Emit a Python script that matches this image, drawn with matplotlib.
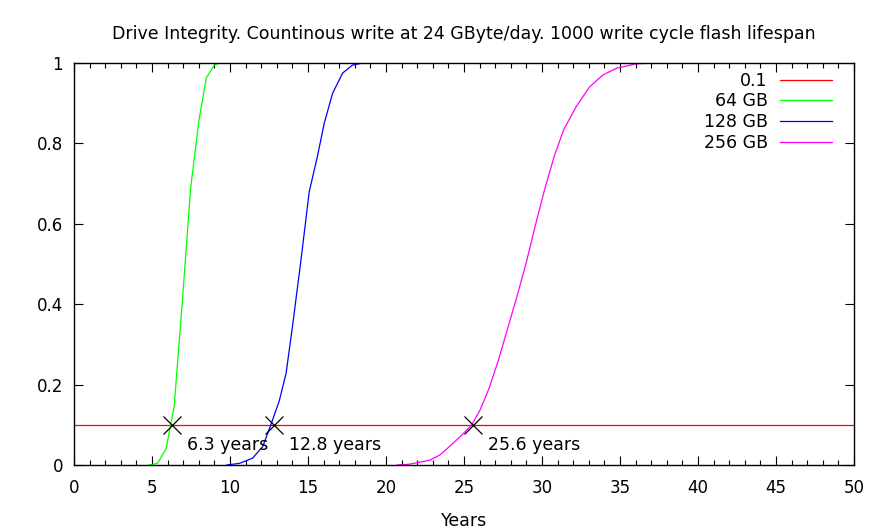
import matplotlib
matplotlib.use("Agg")
import matplotlib.pyplot as plt
from matplotlib.ticker import MultipleLocator

# curves (years, fraction of drive worn out)
years_64 = [4.8, 5.35, 5.9, 6.42, 6.95, 7.48, 8.0, 8.48, 9.0, 9.3]
frac_64 = [0.0, 0.004, 0.04, 0.145, 0.41, 0.69, 0.855, 0.963, 0.995, 1.0]

years_128 = [9.8, 10.6, 11.45, 12.1, 12.62, 13.16, 13.59, 14.0, 14.55, 15.08,
             15.6, 16.04, 16.58, 17.22, 17.86, 18.4, 18.9]
frac_128 = [0.0, 0.004, 0.017, 0.046, 0.1, 0.16, 0.227, 0.343, 0.51, 0.68,
            0.767, 0.85, 0.925, 0.975, 0.995, 0.999, 1.0]

years_256 = [20.7, 21.5, 22.8, 23.46, 24.07, 24.6, 25.0, 25.5, 26.03, 26.6,
             27.2, 27.8, 28.4, 29.0, 29.6, 30.2, 30.8, 31.4, 32.2, 33.06,
             33.9, 34.77, 36.05, 37.3, 37.9]
frac_256 = [0.0, 0.002, 0.012, 0.025, 0.046, 0.065, 0.08, 0.1, 0.137, 0.19,
            0.26, 0.34, 0.42, 0.505, 0.6, 0.69, 0.77, 0.835, 0.892, 0.941,
            0.97, 0.987, 0.998, 1.0, 1.0]

threshold = 0.1
cross_years = [6.3, 12.8, 25.6]
cross_labels = ["6.3 years", "12.8 years", "25.6 years"]

FS = 12.5

fig = plt.figure(figsize=(8.88, 5.32), dpi=100)
ax = fig.add_axes([74/888, 1 - 465/532, 780/888, 402/532])

ax.plot([0, 50], [threshold, threshold], color="#ff0000", lw=0.9, label="0.1")
ax.plot(years_64, frac_64, color="#00ff00", lw=0.9, label="64 GB")
ax.plot(years_128, frac_128, color="#0000ff", lw=0.9, label="128 GB")
ax.plot(years_256, frac_256, color="#ff00ff", lw=0.9, label="256 GB")

ax.plot(cross_years, [threshold]*3, ls="none", marker="x", color="black",
        markersize=13, markeredgewidth=0.9)
for xv, txt in zip(cross_years, cross_labels):
    ax.annotate(txt, (xv, threshold), xytext=(15, -20), textcoords="offset pixels",
                ha="left", va="center", fontsize=FS)

ax.set_xlim(0, 50)
ax.set_ylim(0, 1)
ax.xaxis.set_major_locator(MultipleLocator(5))
ax.xaxis.set_minor_locator(MultipleLocator(1))
ax.set_yticks([0, 0.2, 0.4, 0.6, 0.8, 1])
ax.set_yticklabels(["0", "0.2", "0.4", "0.6", "0.8", "1"])
ax.tick_params(which="both", direction="in", top=True, right=True, labelsize=12)
ax.tick_params(which="major", length=6.5, width=0.8)
ax.tick_params(which="minor", length=3.5, width=0.8)
ax.tick_params(axis="x", pad=10)
ax.tick_params(axis="y", pad=8)
for s in ax.spines.values():
    s.set_linewidth(1.0)

ax.set_xlabel("Years", fontsize=FS, labelpad=11)
ax.set_title("Drive Integrity. Countinous write at 24 GByte/day. 1000 write cycle flash lifespan",
             fontsize=FS, pad=17)

ax.legend(loc="upper right", bbox_to_anchor=(0.9718, 0.978), frameon=False,
          markerfirst=False, fontsize=FS, handlelength=3.0, handletextpad=0.7,
          labelspacing=0.15, borderaxespad=0, borderpad=0)

fig.savefig("out.png", dpi=100)
